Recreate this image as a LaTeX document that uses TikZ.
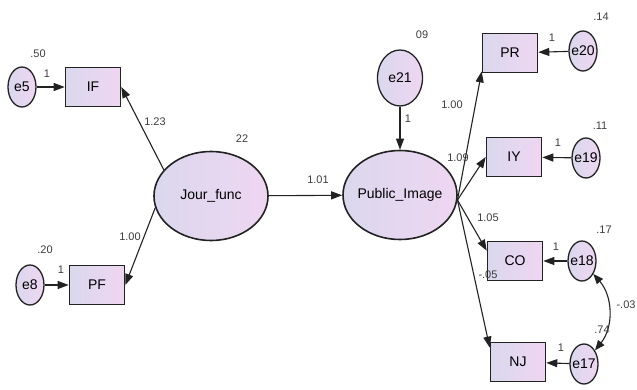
\documentclass[tikz,border=0pt]{standalone}
\usepackage{fontspec}
\setmainfont{Liberation Sans}
\usetikzlibrary{arrows.meta, shapes.geometric}
\definecolor{cline}{HTML}{222222}
\definecolor{ctext}{HTML}{3C3C3C}
\definecolor{clav}{HTML}{DAD8EE}
\definecolor{cpink}{HTML}{EFD6F1}
\tikzset{
  every picture/.style={line width=1pt},
  obs/.style={draw=cline, line width=1.6pt, left color=clav, right color=cpink, minimum width=55pt, minimum height=39pt, inner sep=0pt, font=\fontsize{14}{16}\selectfont},
  lat/.style={ellipse, draw=cline, line width=1.6pt, left color=clav, right color=cpink, minimum width=114pt, minimum height=89pt, inner sep=0pt, inner xsep=-6pt, font=\fontsize{14}{16}\selectfont},
  err/.style={ellipse, draw=cline, line width=1.3pt, left color=clav, right color=cpink, minimum width=28pt, minimum height=40pt, inner sep=0pt, inner xsep=-3pt, font=\fontsize{14}{16}\selectfont},
  arrow/.style={-{Triangle[length=11pt, width=8pt]}, draw=cline, line width=1.1pt},
  est/.style={font=\fontsize{11}{12}\selectfont, text=ctext, inner sep=0pt},
}

\begin{document}
\begin{tikzpicture}[x=1pt, y=-1pt,
    cov/.style={{Triangle[length=10pt, width=8pt]}-{Triangle[length=10pt, width=8pt]}, draw=cline, line width=1.1pt},
  ]
  \useasboundingbox (0,0) rectangle (637,390);

  % latent variables
  \node[lat] (jf) at (211,196) {Jour\_func};
  \node[lat] (pi) at (400,195) {Public\_Image};
  \node[err, minimum width=45pt, minimum height=56pt] (e21) at (400,78) {e21};
  \draw[arrow] (jf) -- (pi);
  \draw[arrow] (e21) -- (pi);
  \node[est] (vjf) at (242,139) {22};
  \node[est] (v21) at (422,35) {09};
  \node[est] (wjp) at (318,180) {1.01};
  \node[est] (w21) at (408,119) {1};

  % left indicators
  \node[obs] (if) at (93,87) {IF};
  \node[obs] (pf) at (97,285) {PF};
  \node[err] (e5) at (22,87) {e5};
  \node[err] (e8) at (30,285) {e8};
  \draw[arrow] (e5) -- (if);
  \draw[arrow] (e8) -- (pf);
  \draw[arrow] (jf.151) -- (if.east);
  \draw[arrow] (jf.192) -- (pf.east);
  \node[est] (v5) at (38,54) {.50};
  \node[est] (v8) at (45,250) {.20};
  \node[est] (w5) at (47,74) {1};
  \node[est] (w8) at (61,270) {1};
  \node[est] (wif) at (155,122) {1.23};
  \node[est] (wpf) at (130,237) {1.00};

  % right indicators
  \node[obs] (pr) at (510,53) {PR};
  \node[obs] (iy) at (514,157) {IY};
  \node[obs] (co) at (515,261) {CO};
  \node[obs] (nj) at (518,362) {NJ};
  \node[err] (e20) at (583,51) {e20};
  \node[err] (e19) at (586,158) {e19};
  \node[err] (e18) at (582,261) {e18};
  \node[err] (e17) at (584,364) {e17};
  \draw[arrow] (e20) -- (pr);
  \draw[arrow] (e19) -- (iy);
  \draw[arrow] (e18) -- (co);
  \draw[arrow] (e17) -- (nj);
  \draw[arrow] (pi.-5) -- (pr.213);
  \draw[arrow] (pi.-5) -- (iy.west);
  \draw[arrow] (pi.-5) -- (co.160);
  \draw[arrow] (pi.-5) -- (nj.153);
  \draw[cov] (e18) to[bend left=40] (e17);
  \node[est] (v20) at (601,17) {.14};
  \node[est] (v19) at (600,126) {.11};
  \node[est] (v18) at (604,230) {.17};
  \node[est] (v17) at (602,330) {.74};
  \node[est] (w20) at (552,38) {1};
  \node[est] (w19) at (558,143) {1};
  \node[est] (w18) at (556,247) {1};
  \node[est] (w17) at (561,348) {1};
  \node[est] (wpr) at (452,105) {1.00};
  \node[est] (wiy) at (458,158) {1.09};
  \node[est] (wco) at (488,218) {1.05};
  \node[est] (wnj) at (488,275) {-.05};
  \node[est, anchor=east] (c87) at (636,305) {-.03};
\end{tikzpicture}
\end{document}
